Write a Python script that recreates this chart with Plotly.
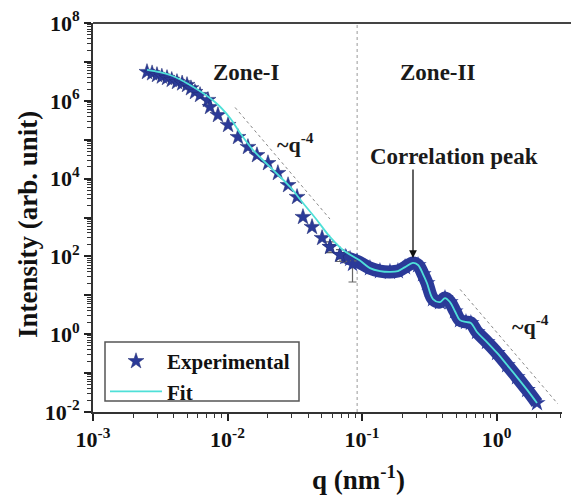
import plotly.graph_objects as go

# ---------------- data ----------------
# Zone I experimental points (sparse stars)
exp_q = [0.00252, 0.00275, 0.00299, 0.00325, 0.00355, 0.00385, 0.00421, 0.0046, 0.0050,
         0.00535, 0.00573, 0.00625, 0.00716, 0.00741, 0.00849, 0.0101, 0.01197, 0.01419,
         0.01656, 0.02, 0.0237, 0.0282, 0.0329, 0.0364, 0.0425, 0.0505, 0.0578, 0.0686]
exp_I = [5.5e6, 5.1e6, 4.6e6, 4.2e6, 3.86e6, 3.45e6, 3.04e6, 2.8e6, 2.55e6,
         2.1e6, 1.68e6, 1.41e6, 1.05e6, 6.9e5, 4.3e5, 2.39e5, 1.17e5, 6.5e4,
         4.0e4, 2.5e4, 1.39e4, 6.8e3, 3.37e3, 1.03e3, 570, 297, 175, 109]

# error bars on a few points near the zone boundary
err_q = [0.0578, 0.0686, 0.0765, 0.085]
err_I = [175, 109, 95, 62]
err_plus = [60, 40, 30, 15]
err_minus = [50, 35, 25, 40]

# Zone II dense experimental data (band)
band_q = [0.075, 0.0815, 0.0918, 0.1146, 0.136, 0.1614, 0.185, 0.209, 0.239, 0.261,
          0.284, 0.304, 0.337, 0.380, 0.414, 0.451, 0.491, 0.535, 0.593, 0.645,
          0.716, 0.849, 1.01, 1.20, 1.42, 1.69, 2.00]
band_I = [97, 86, 75, 50, 42, 40, 42, 53, 68, 60,
          35, 20.7, 8.0, 6.7, 8.5, 6.7, 3.9, 2.3, 2.06, 1.94,
          1.14, 0.63, 0.33, 0.161, 0.079, 0.037, 0.017]

# Fit curve
fit_q = [0.00252, 0.00373, 0.00526, 0.00807, 0.01044, 0.01239, 0.01549, 0.0207,
         0.0292, 0.0364, 0.0462, 0.0578, 0.0722, 0.0966] + band_q[3:]
fit_I = [6.2e6, 4.6e6, 2.55e6, 9.3e5, 3.61e5, 1.49e5, 5.4e4, 1.99e4,
         6.1e3, 2.36e3, 863, 316, 146, 78] + band_I[3:]

# ~q^-4 guide lines
guide1_q = [0.01138, 0.0578]
guide1_I = [6.75e5, 914]
guide2_q = [0.536, 2.86]
guide2_I = [14.2, 0.0161]

zone_boundary_q = 0.092
y_range_I = [1e-2, 1e8]

y_tickvals = [1e-2, 1e-1, 1e0, 1e1, 1e2, 1e3, 1e4, 1e5, 1e6, 1e7, 1e8]
y_ticktext = ["10<sup>-2</sup>", "", "10<sup>0</sup>", "", "10<sup>2</sup>", "",
              "10<sup>4</sup>", "", "10<sup>6</sup>", "", "10<sup>8</sup>"]
x_tickvals = [1e-3, 1e-2, 1e-1, 1e0]
x_ticktext = ["10<sup>-3</sup>", "10<sup>-2</sup>", "10<sup>-1</sup>", "10<sup>0</sup>"]

# ---------------- styles ----------------
SERIF = "Liberation Serif"
BLUE = "#2B3A98"
CYAN = "#4FE0D8"
W, H = 571, 496
L, T, R, B = 93, 23, 0, 84
plot_w = W - L - R
plot_h = H - T - B


def px(xpix):
    return (xpix - L) / plot_w


def py(ypix):
    return (H - B - ypix) / plot_h


fig = go.Figure()

# vertical dotted zone boundary
fig.add_trace(go.Scatter(x=[zone_boundary_q, zone_boundary_q], y=y_range_I, mode="lines",
                         line=dict(color="#999999", width=1, dash="dot"),
                         showlegend=False, hoverinfo="skip"))
# guide lines
for gq, gI in [(guide1_q, guide1_I), (guide2_q, guide2_I)]:
    fig.add_trace(go.Scatter(x=gq, y=gI, mode="lines",
                             line=dict(color="#888888", width=1, dash="dot"),
                             showlegend=False, hoverinfo="skip"))

# dense band (zone II)
fig.add_trace(go.Scatter(x=band_q, y=band_I, mode="lines+markers",
                         line=dict(color=BLUE, width=13, shape="spline"),
                         marker=dict(symbol="star", size=13, color=BLUE),
                         showlegend=False))

# error bar points
fig.add_trace(go.Scatter(x=err_q, y=err_I, mode="markers",
                         marker=dict(symbol="star", size=12, color=BLUE),
                         error_y=dict(type="data", symmetric=False, array=err_plus,
                                      arrayminus=err_minus, color="#666666",
                                      thickness=1.2, width=4),
                         showlegend=False))

# experimental stars
fig.add_trace(go.Scatter(x=exp_q, y=exp_I, mode="markers", name="Experimental",
                         marker=dict(symbol="star", size=12, color=BLUE,
                                     line=dict(color="#1E2A70", width=0.5))))

# fit
fig.add_trace(go.Scatter(x=fit_q, y=fit_I, mode="lines", name="Fit",
                         line=dict(color=CYAN, width=1.8, shape="spline")))

# annotations
ann_font = dict(family=SERIF, size=23, color="#1a1a1a", weight="bold")
annotations = [
    dict(x=px(246), y=py(72), text="Zone-I"),
    dict(x=px(437), y=py(72), text="Zone-II"),
    dict(x=px(295), y=py(143), text="~q<sup>-4</sup>", font=dict(ann_font, size=22)),
    dict(x=px(530), y=py(325), text="~q<sup>-4</sup>", font=dict(ann_font, size=22)),
    dict(x=px(454), y=py(156), text="Correlation peak"),
]
anns = []
for a in annotations:
    a.setdefault("font", ann_font)
    a.update(xref="paper", yref="paper", showarrow=False,
             xanchor="center", yanchor="middle")
    anns.append(a)
# arrow
anns.append(dict(xref="paper", yref="paper", x=px(413), y=py(258), ax=0, ay=-90,
                 text="", showarrow=True, arrowhead=2, arrowsize=1.2, arrowwidth=1.3,
                 arrowcolor="#111111"))
# axis titles
title_font = dict(family=SERIF, size=27, color="#111111", weight="bold")
anns.append(dict(xref="paper", yref="paper", x=px(28), y=py(225), text="Intensity (arb. unit)",
                 textangle=-90, showarrow=False, font=title_font,
                 xanchor="center", yanchor="middle"))
anns.append(dict(xref="paper", yref="paper", x=px(358), y=py(478), text="q (nm<sup>-1</sup>)",
                 showarrow=False, font=title_font, xanchor="center", yanchor="middle"))

tick_font = dict(family=SERIF, size=22, color="#111111", weight="bold")

x_end = (562 - L) / plot_w
fig.update_layout(
    width=W, height=H,
    margin=dict(l=L, r=R, t=T, b=B),
    paper_bgcolor="white", plot_bgcolor="white",
    annotations=anns,
    shapes=[dict(type="line", xref="paper", yref="paper", x0=0, x1=1, y0=1, y1=1,
                 line=dict(color="#444444", width=2)),
            dict(type="rect", xref="paper", yref="paper", x0=px(105), x1=px(299),
                 y0=py(401), y1=py(342), fillcolor="white", layer="above",
                 line=dict(color="#555555", width=1.5))],
    legend=dict(x=px(105), y=py(341), xanchor="left", yanchor="top",
                borderwidth=0, bgcolor="rgba(0,0,0,0)",
                font=dict(family=SERIF, size=21, color="#111111", weight="bold"),
                itemwidth=52, tracegroupgap=0),
    xaxis=dict(type="log", range=[-3, (562 - L) / 134.5 - 3], domain=[0, x_end],
               tickvals=x_tickvals, ticktext=x_ticktext, tickfont=tick_font,
               ticks="outside", ticklen=7, tickwidth=1.5, tickcolor="#222222",
               minor=dict(ticks="outside", ticklen=4, tickwidth=1.2, tickcolor="#333333",
                          dtick="D1", showgrid=False),
               showline=True, linecolor="#333333", linewidth=2,
               showgrid=False, zeroline=False),
    yaxis=dict(type="log", range=[-2, 8],
               tickvals=y_tickvals, ticktext=y_ticktext, tickfont=tick_font,
               ticks="outside", ticklen=7, tickwidth=1.5, tickcolor="#222222",
               minor=dict(ticks="outside", ticklen=4, tickwidth=1.2, tickcolor="#333333",
                          dtick="D1", showgrid=False),
               showline=True, linecolor="#333333", linewidth=2,
               showgrid=False, zeroline=False),
)

fig.write_html("out.html", config={"displayModeBar": False},
               post_script="document.body.style.margin='0';document.body.style.padding='0';")
